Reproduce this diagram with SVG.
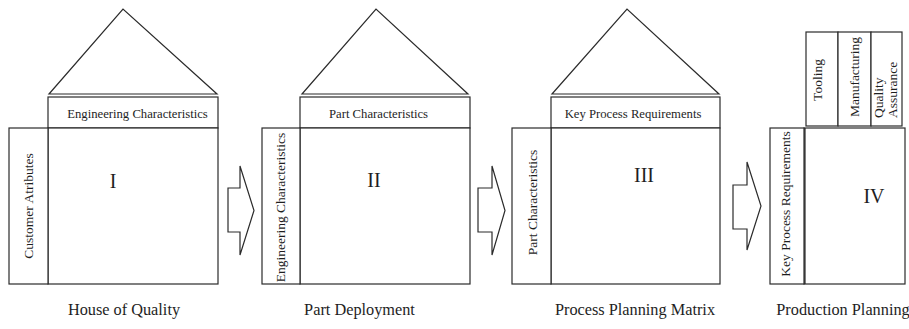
<svg xmlns="http://www.w3.org/2000/svg" width="909" height="329" viewBox="0 0 909 329">
  <style>
    .box { fill: #ffffff; stroke: #2b2b2b; stroke-width: 1.2; }
    .roof { fill: #ffffff; stroke: #2b2b2b; stroke-width: 1.2; stroke-linejoin: miter; }
    .arrow { fill: #ffffff; stroke: #2b2b2b; stroke-width: 1.2; stroke-linejoin: miter; }
    text { font-family: "Liberation Serif", "Times New Roman", serif; fill: #1e1e1e; }
    .band { font-size: 12.7px; text-anchor: middle; }
    .side { font-size: 13.5px; text-anchor: middle; }
    .num { font-size: 20px; text-anchor: middle; }
    .cap { font-size: 16.3px; text-anchor: middle; }
  </style>
  <rect width="909" height="329" fill="#ffffff"/>

  <!-- Stage I: House of Quality -->
  <g id="house-of-quality">
    <polygon class="roof" points="49,94 123,9 217,94"/>
    <rect class="box" x="48" y="97" width="170" height="31"/>
    <rect class="box" x="48" y="128" width="170" height="156"/>
    <rect class="box" x="9" y="128" width="39" height="156"/>
    <text class="band" x="137.5" y="117.5">Engineering Characteristics</text>
    <text class="side" transform="translate(32.7,206) rotate(-90)">Customer Atributes</text>
    <text class="num" x="113" y="188">I</text>
    <text class="cap" x="124" y="315">House of Quality</text>
  </g>

  <!-- Stage II: Part Deployment -->
  <g id="part-deployment">
    <polygon class="roof" points="302,94 376,9 468,94"/>
    <rect class="box" x="300" y="97" width="170" height="31"/>
    <rect class="box" x="300" y="128" width="170" height="156"/>
    <rect class="box" x="262" y="128" width="38" height="156"/>
    <text class="band" x="378.5" y="117.5">Part Characteristics</text>
    <text class="side" transform="translate(285,207.5) rotate(-90)">Engineering Characteristics</text>
    <text class="num" x="374" y="187">II</text>
    <text class="cap" x="359.5" y="315">Part Deployment</text>
  </g>

  <!-- Stage III: Process Planning Matrix -->
  <g id="process-planning-matrix">
    <polygon class="roof" points="552,94 627,9 719,94"/>
    <rect class="box" x="551" y="97" width="169" height="31"/>
    <rect class="box" x="551" y="128" width="169" height="156"/>
    <rect class="box" x="512" y="128" width="39" height="156"/>
    <text class="band" x="633" y="117.5">Key Process Requirements</text>
    <text class="side" transform="translate(537,202.5) rotate(-90)">Part Characteristics</text>
    <text class="num" x="644" y="182">III</text>
    <text class="cap" x="635" y="315">Process Planning Matrix</text>
  </g>

  <!-- Stage IV: Production Planning -->
  <g id="production-planning">
    <rect class="box" x="806" y="32" width="32" height="94"/>
    <rect class="box" x="838" y="32" width="33" height="94"/>
    <rect class="box" x="871" y="32" width="31" height="94"/>
    <rect class="box" x="804" y="128" width="101" height="156"/>
    <rect class="box" x="770" y="128" width="34" height="156"/>
    <line x1="805" y1="128" x2="805" y2="284" stroke="#2b2b2b" stroke-width="1.2"/>
    <text class="side" transform="translate(821.5,80) rotate(-90)">Tooling</text>
    <text class="side" transform="translate(859,77) rotate(-90)">Manufacturing</text>
    <text class="side" style="text-anchor:start" transform="translate(883,118) rotate(-90)">Quality</text>
    <text class="side" style="text-anchor:start" transform="translate(897,118) rotate(-90)">Assurance</text>
    <text class="side" transform="translate(790,204) rotate(-90)">Key Process Requirements</text>
    <text class="num" x="874" y="203">IV</text>
    <text class="cap" x="843" y="315">Production Planning</text>
  </g>

  <!-- Block arrows between stages -->
  <g id="connectors">
    <polygon class="arrow" points="228,188 240,188 240,166 254,210.5 240,255 240,232 228,232"/>
    <polygon class="arrow" points="478,188 492,188 492,166 505,210.5 492,255 492,232 478,232"/>
    <polygon class="arrow" points="733,185 747,185 747,162 761,206 747,250 747,229 733,229"/>
  </g>
</svg>
